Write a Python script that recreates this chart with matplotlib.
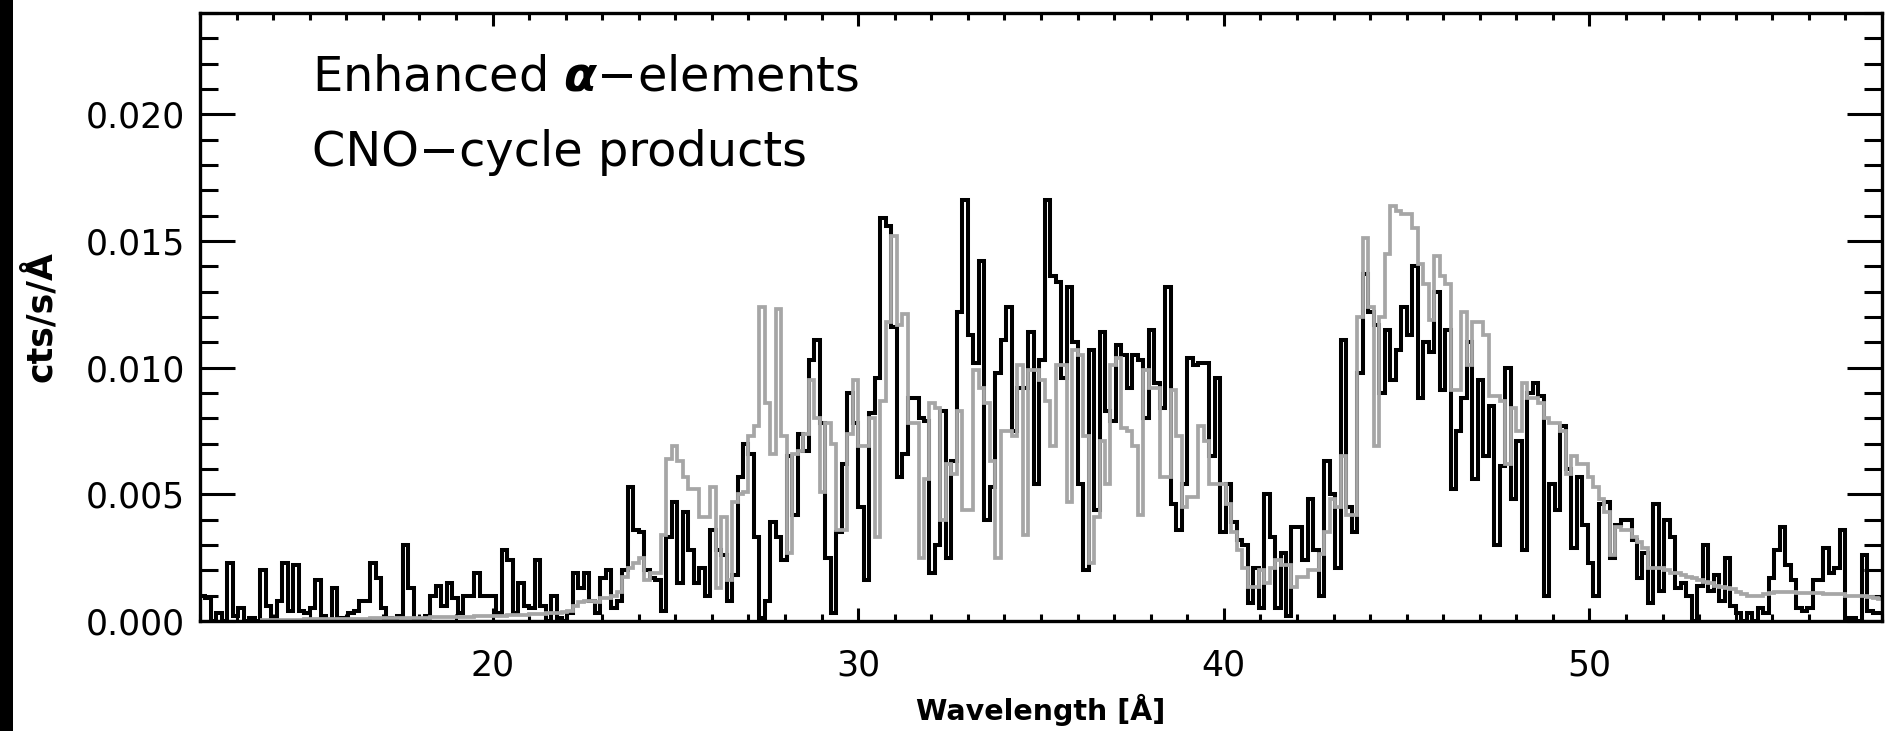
import matplotlib
matplotlib.use("Agg")
import matplotlib.pyplot as plt
import numpy as np
from matplotlib.patches import Rectangle
from matplotlib.ticker import MultipleLocator, FormatStrFormatter

plt.rcParams["font.family"] = ["DejaVu Sans"]

# binning of the spectrum (Angstrom)
obs_start = 12.0
model_start = 13.65
bin_width = 0.15

# observed count rate, 1e-3 cts/s/A, one row = 1.5 A
obs_rate = [
    1.0, 0.9, 0.0, 0.3, 0.0, 2.3, 0.2, 0.5, 0.0, 0.1,
    0.0, 2.0, 0.6, 0.0, 0.8, 2.3, 0.4, 2.2, 0.4, 0.3,
    0.5, 1.6, 0.2, 0.0, 1.3, 0.1, 0.0, 0.3, 0.4, 0.8,
    0.8, 2.3, 1.7, 0.5, 0.1, 0.0, 0.2, 3.0, 1.3, 0.0,
    0.0, 0.2, 1.0, 1.4, 0.6, 1.5, 0.9, 0.3, 1.0, 1.0,
    1.9, 1.0, 1.0, 1.0, 0.3, 2.8, 2.4, 0.3, 1.5, 0.6,
    0.5, 2.4, 0.6, 0.0, 1.0, 0.1, 0.0, 0.3, 1.9, 1.3,
    1.9, 0.8, 0.3, 1.7, 2.0, 0.5, 0.8, 2.0, 5.3, 3.6,
    3.5, 2.0, 1.7, 1.6, 0.4, 3.3, 4.7, 1.5, 4.3, 2.8,
    1.5, 2.1, 1.0, 3.6, 2.8, 2.6, 0.8, 1.8, 5.7, 7.0,
    6.6, 3.3, 0.1, 0.8, 3.9, 3.3, 2.4, 6.5, 4.2, 7.4,
    6.7, 10.3, 11.1, 7.8, 2.5, 0.3, 3.5, 6.2, 9.0, 7.8,
    4.5, 1.6, 8.2, 9.6, 15.9, 15.6, 11.6, 5.7, 6.6, 8.8,
    8.8, 8.0, 7.9, 1.9, 3.0, 8.3, 2.5, 6.3, 12.2, 16.6,
    11.3, 10.2, 14.2, 4.0, 5.3, 9.8, 11.1, 12.4, 7.5, 9.2,
    9.2, 11.4, 5.4, 10.3, 16.6, 13.6, 13.4, 9.6, 13.2, 11.0,
    5.4, 2.0, 10.7, 4.4, 11.4, 8.3, 7.9, 10.9, 10.5, 9.2,
    10.5, 10.3, 8.0, 11.5, 9.4, 8.4, 13.2, 4.6, 3.6, 5.4,
    10.4, 10.1, 10.2, 10.2, 6.5, 9.6, 3.5, 5.4, 3.9, 3.2,
    3.0, 0.7, 2.1, 0.5, 5.0, 3.3, 0.5, 2.7, 0.2, 3.7,
    3.7, 2.4, 4.8, 2.8, 1.0, 6.3, 5.0, 2.1, 11.1, 4.5,
    3.5, 9.8, 13.7, 12.2, 11.7, 9.0, 11.5, 9.5, 10.7, 12.4,
    11.3, 14.0, 8.8, 11.0, 10.6, 13.0, 9.1, 11.5, 5.2, 7.5,
    8.8, 11.0, 5.6, 9.5, 6.5, 8.5, 3.0, 6.1, 10.0, 4.8,
    7.1, 2.8, 9.0, 9.4, 8.9, 1.0, 5.4, 4.4, 7.7, 6.0,
    2.9, 5.7, 3.8, 2.3, 1.0, 4.6, 4.7, 2.5, 3.8, 4.0,
    4.0, 3.2, 1.7, 2.7, 0.7, 4.6, 1.2, 4.0, 3.3, 1.3,
    1.5, 1.0, 0.0, 1.4, 3.0, 1.2, 1.8, 0.8, 2.5, 0.6,
    0.3, 0.0, 0.3, 0.0, 0.5, 0.3, 1.7, 2.8, 3.7, 2.2,
    1.6, 0.5, 0.4, 0.5, 1.6, 1.6, 2.9, 1.9, 2.1, 3.6,
    0.1, 0.1, 0.0, 2.6, 0.4, 0.3, 0.3,
]

# model spectrum (gray), same bins, starts at 13.65 A
model_rate = [
    0.02, 0.03, 0.03, 0.04, 0.04, 0.05, 0.05, 0.05, 0.06,
    0.06, 0.06, 0.07, 0.07, 0.07, 0.08, 0.08, 0.08, 0.09, 0.09,
    0.09, 0.10, 0.10, 0.10, 0.11, 0.11, 0.11, 0.12, 0.12, 0.12,
    0.13, 0.13, 0.14, 0.14, 0.15, 0.15, 0.16, 0.16, 0.17, 0.17,
    0.18, 0.18, 0.19, 0.20, 0.20, 0.21, 0.22, 0.23, 0.24, 0.25,
    0.26, 0.27, 0.28, 0.30, 0.31, 0.33, 0.35, 0.38, 0.60, 0.75,
    0.8, 0.8, 0.75, 0.9, 0.9, 1.0, 1.15, 1.75, 2.1, 2.3,
    2.5, 1.6, 1.9, 1.9, 3.4, 6.4, 6.9, 6.3, 5.7, 5.2,
    5.2, 4.1, 4.1, 5.3, 1.3, 4.1, 1.6, 4.7, 5.0, 5.1,
    7.3, 7.7, 12.4, 8.6, 6.6, 12.3, 7.3, 2.7, 6.6, 6.7,
    7.4, 9.5, 8.0, 5.1, 7.8, 7.0, 3.6, 3.6, 7.4, 9.5,
    6.9, 6.9, 8.0, 3.3, 8.7, 11.8, 15.2, 11.7, 12.1, 7.8,
    7.8, 2.5, 5.6, 8.6, 8.4, 4.0, 6.2, 5.8, 8.3, 4.4,
    4.4, 9.9, 9.2, 8.6, 6.3, 2.5, 7.5, 7.5, 7.3, 10.1,
    3.4, 9.9, 9.9, 9.5, 8.7, 6.9, 10.1, 10.1, 4.7, 10.7,
    10.5, 7.3, 2.3, 4.1, 7.1, 5.4, 10.1, 10.4, 7.6, 7.5,
    6.9, 4.2, 9.9, 9.2, 9.2, 5.7, 5.7, 9.1, 7.3, 4.5,
    4.9, 4.9, 7.7, 7.1, 5.4, 5.4, 5.4, 4.6, 3.5, 2.8,
    2.1, 1.35, 1.35, 2.0, 1.5, 2.1, 2.4, 2.2, 2.2, 1.35,
    1.75, 1.75, 2.0, 2.0, 2.65, 3.5, 4.8, 4.5, 6.5, 4.2,
    4.2, 12.0, 15.1, 12.4, 6.9, 12.0, 14.5, 16.4, 16.2, 16.05,
    16.05, 15.5, 14.1, 13.3, 11.9, 14.4, 13.6, 13.3, 9.1, 9.1,
    12.2, 10.1, 11.8, 11.8, 11.3, 8.9, 8.9, 8.7, 6.2, 8.4,
    7.5, 9.4, 8.8, 8.8, 8.6, 8.0, 7.8, 7.8, 7.5, 5.8,
    6.5, 6.2, 6.2, 5.7, 5.3, 4.8, 4.3, 2.6, 3.7, 3.6,
    3.6, 3.3, 3.1, 2.9, 2.1, 2.1, 2.1, 2.0, 1.9, 1.9,
    1.8, 1.75, 1.7, 1.6, 1.55, 1.5, 1.4, 1.35, 1.3, 1.25,
    1.15, 1.05, 1.0, 1.0, 1.0, 1.05, 1.1, 1.15, 1.15, 1.15,
    1.15, 1.1, 1.1, 1.1, 1.1, 1.1, 1.05, 1.05, 1.05, 1.05,
    1.0, 1.0, 1.0, 1.0, 0.95, 0.9, 0.85,
]

labels = ["Enhanced $\\boldsymbol{\\alpha}$\u2212elements", "CNO\u2212cycle products"]

obs = np.array(obs_rate) * 1e-3
model = np.array(model_rate) * 1e-3
obs_edges = obs_start + bin_width * np.arange(len(obs) + 1)
model_edges = model_start + bin_width * np.arange(len(model) + 1)

fig = plt.figure(figsize=(18.86, 7.31), dpi=100)
fig.patch.set_facecolor("white")
fig.patches.append(Rectangle((0, 0), 13 / 1886, 1, transform=fig.transFigure,
                             facecolor="black", edgecolor="none", zorder=0))
ax = fig.add_axes([200 / 1886, 110 / 731, 1682 / 1886, 608 / 731])

ax.stairs(obs, obs_edges, baseline=None, color="black", linewidth=2.9, zorder=3)
ax.stairs(model, model_edges, baseline=None, color="#a6a6a6", linewidth=2.7, zorder=4)

ax.set_xlim(12, 58)
ax.set_ylim(0, 0.024)

ax.xaxis.set_major_locator(MultipleLocator(10))
ax.xaxis.set_minor_locator(MultipleLocator(1))
ax.yaxis.set_major_locator(MultipleLocator(0.005))
ax.yaxis.set_minor_locator(MultipleLocator(0.001))
ax.yaxis.set_major_formatter(FormatStrFormatter("%.3f"))

for s in ax.spines.values():
    s.set_linewidth(2.4)
    s.set_zorder(6)

ax.tick_params(axis="both", which="both", direction="in", top=True, right=True,
               width=2.2, colors="black", labelsize=25)
ax.tick_params(axis="y", which="major", length=25, pad=11)
ax.tick_params(axis="y", which="minor", length=13)
ax.tick_params(axis="x", which="major", length=9.5, pad=20)
ax.tick_params(axis="x", which="minor", length=5)

ax.set_xlabel("Wavelength [\u00c5]", fontsize=20.5, fontweight="bold", labelpad=8)
ax.set_ylabel("cts/s/\u00c5", fontsize=25, fontweight="bold", labelpad=20)

ax.text(0.0666, 0.872, labels[0], transform=ax.transAxes, fontsize=34.5,
        ha="left", va="baseline", color="black")
ax.text(0.0666, 0.749, labels[1], transform=ax.transAxes, fontsize=34.5,
        ha="left", va="baseline", color="black")

fig.savefig("out.png", dpi=100, facecolor=fig.get_facecolor())
